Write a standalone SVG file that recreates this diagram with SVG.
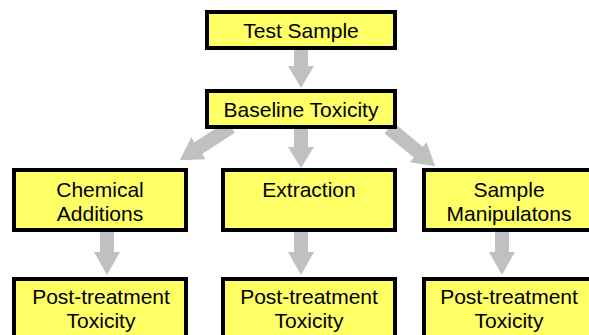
<svg xmlns="http://www.w3.org/2000/svg" width="589" height="335" viewBox="0 0 589 335">
<style>
.box{fill:#ffff66;stroke:#000;stroke-width:4}
.arr{fill:#c0c0c0;stroke:none}
text{font-family:"Liberation Sans",Arial,sans-serif;font-size:21px;fill:#000;text-anchor:middle}
</style>
<rect x="0" y="0" width="589" height="335" fill="#fff"/>
<g id="connectors">
<polygon class="arr" points="294,50 308,50 308,66 314,66 301,88 288,66 294,66"/>
<polygon class="arr" points="0,-7 39,-7 39,-13 61,0 39,13 39,7 0,7" transform="translate(231,127) rotate(147)"/>
<polygon class="arr" points="294,127 308,127 308,147 314,147 301,168 288,147 294,147"/>
<polygon class="arr" points="0,-7 38,-7 38,-13 60,0 38,13 38,7 0,7" transform="translate(389,128) rotate(39.6)"/>
<polygon class="arr" points="100,232 114,232 114,252 120,252 107,275 94,252 100,252"/>
<polygon class="arr" points="294,232 308,232 308,252 314,252 301,275 288,252 294,252"/>
<polygon class="arr" points="495,232 509,232 509,252 515,252 502,275 489,252 495,252"/>
</g>
<g id="test-sample"><rect class="box" x="207" y="12" width="188" height="36"/><text x="301" y="38">Test Sample</text></g>
<g id="baseline-toxicity"><rect class="box" x="207" y="91" width="188" height="36"/><text x="301" y="117">Baseline Toxicity</text></g>
<g id="chemical-additions"><rect class="box" x="14" y="170" width="172" height="60"/><text x="100" y="197">Chemical</text><text x="100" y="221">Additions</text></g>
<g id="extraction"><rect class="box" x="223" y="170" width="172" height="60"/><text x="309" y="197">Extraction</text></g>
<g id="sample-manipulations"><rect class="box" x="424" y="170" width="172" height="60"/><text x="509" y="197">Sample</text><text x="509" y="221">Manipulatons</text></g>
<g id="post-chemical"><rect class="box" x="14" y="279" width="172" height="70"/><text x="101" y="304">Post-treatment</text><text x="101" y="328">Toxicity</text></g>
<g id="post-extraction"><rect class="box" x="223" y="279" width="172" height="70"/><text x="309" y="304">Post-treatment</text><text x="309" y="328">Toxicity</text></g>
<g id="post-sample"><rect class="box" x="424" y="279" width="172" height="70"/><text x="509" y="304">Post-treatment</text><text x="509" y="328">Toxicity</text></g>
</svg>
